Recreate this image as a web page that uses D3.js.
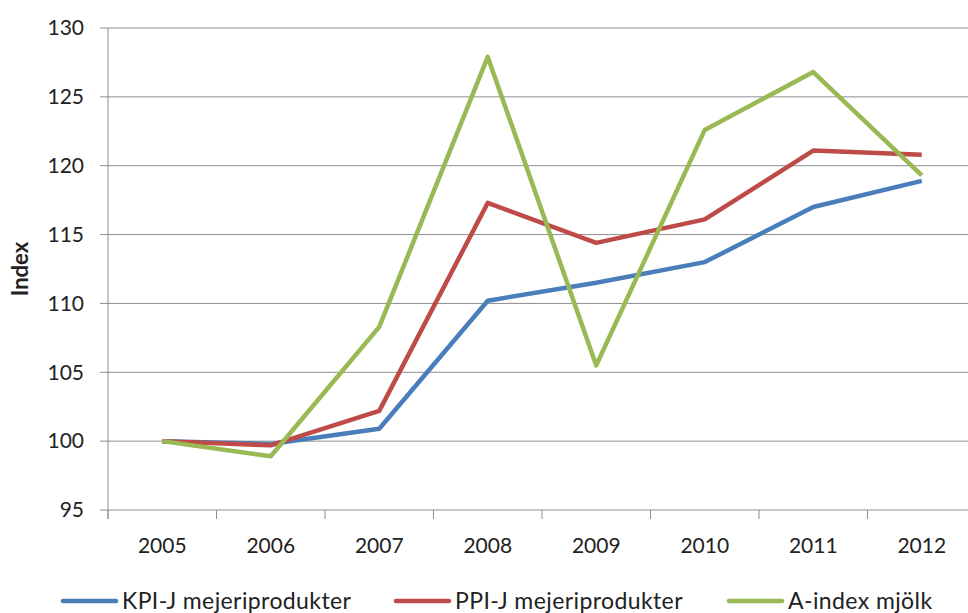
<!DOCTYPE html>
<html><head><meta charset="utf-8">
<script src="https://cdn.jsdelivr.net/npm/d3@7"></script>
<style>body{margin:0;background:#fff}svg{display:block}text{font-family:Lato,"Open Sans",sans-serif;fill:#222}</style>
</head><body>
<svg id="c" width="968" height="613"></svg>
<script>
const years = ["2005","2006","2007","2008","2009","2010","2011","2012"];
const kpi = [100, 99.8, 100.9, 110.2, 111.5, 113.0, 117.0, 118.9];
const ppi = [100, 99.7, 102.2, 117.3, 114.4, 116.1, 121.1, 120.8];
const aidx = [100, 98.9, 108.3, 127.9, 105.5, 122.6, 126.8, 119.3];
const yTicks = [95,100,105,110,115,120,125,130];
const seriesNames = ["KPI-J mejeriprodukter","PPI-J mejeriprodukter","A-index mjölk"];
const colors = ["#4a7ebb","#be4b48","#98b954"];
const series = [kpi, ppi, aidx];

const svg = d3.select("#c");
const L = 108, R = 976, T = 28, B = 510;
const x = d3.scaleBand().domain(years).range([L, R]);
const y = d3.scaleLinear().domain([95,130]).range([B, T]);
const grid = "#8e8e8e";

// gridlines
svg.append("g").selectAll("line").data(yTicks).join("line")
  .attr("x1", L-8).attr("x2", R).attr("y1", d=>y(d)).attr("y2", d=>y(d))
  .attr("stroke", grid).attr("stroke-width", 1);
// y axis line
svg.append("line").attr("x1",L).attr("x2",L).attr("y1",T).attr("y2",B+9).attr("stroke",grid);
// x tick marks at band boundaries
const bounds = years.map(d=>x(d)).concat([R]);
svg.append("g").selectAll("line").data(bounds).join("line")
  .attr("x1",d=>d).attr("x2",d=>d).attr("y1",B).attr("y2",B+9).attr("stroke",grid);

// y labels
svg.append("g").selectAll("text").data(yTicks).join("text")
  .attr("x", 84).attr("y", d=>y(d)).attr("dy","0.35em").attr("text-anchor","end")
  .style("font-size","21px").text(d=>d);
// x labels
svg.append("g").selectAll("text").data(years).join("text")
  .attr("x", d=>x(d)+x.bandwidth()/2).attr("y", 546).attr("dy","0.35em").attr("text-anchor","middle")
  .style("font-size","21px").text(d=>d);
// y title
svg.append("text").attr("transform","translate(28,269) rotate(-90)").attr("text-anchor","middle")
  .style("font-size","22px").style("font-weight","bold").text("Index");

// lines
const line = d3.line().x((d,i)=>x(years[i])+x.bandwidth()/2).y(d=>y(d));
series.forEach((s,i)=>{
  svg.append("path").datum(s).attr("d", line).attr("fill","none")
    .attr("stroke", colors[i]).attr("stroke-width", 4.5).attr("stroke-linejoin","round");
});

// legend
const legX = [63, 396, 729];
seriesNames.forEach((n,i)=>{
  const g = svg.append("g");
  g.append("line").attr("x1",legX[i]).attr("x2",legX[i]+53).attr("y1",601).attr("y2",601)
    .attr("stroke",colors[i]).attr("stroke-width",4.5).attr("stroke-linecap","round");
  g.append("text").attr("x",legX[i]+59).attr("y",601).attr("dy","0.35em")
    .style("font-size","23px").style("letter-spacing","0.4px").text(n);
});
</script>
</body></html>
